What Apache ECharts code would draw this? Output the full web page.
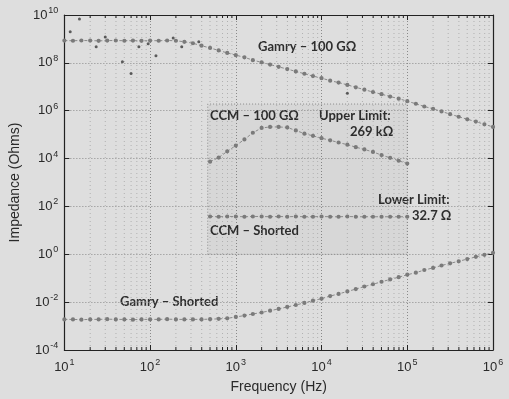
<!DOCTYPE html>
<html><head><meta charset="utf-8">
<script src="https://cdn.jsdelivr.net/npm/echarts@6/dist/echarts.min.js"></script>
<style>html,body{margin:0;padding:0;background:#dedede}#c{width:509px;height:399px}</style>
</head><body><div id="c"></div>
<script>
// ---- data (Frequency in Hz, Impedance in Ohms) ----
const freq = [10,12.6,15.8,20,25.1,31.6,39.8,50.1,63.1,79.4,
  100,126,158,200,251,316,398,501,631,794,
  1000,1260,1580,2000,2510,3160,3980,5010,6310,7940,
  1e4,1.26e4,1.58e4,2e4,2.51e4,3.16e4,3.98e4,5.01e4,6.31e4,7.94e4,
  1e5,1.26e5,1.58e5,2e5,2.51e5,3.16e5,3.98e5,5.01e5,6.31e5,7.94e5,1e6];
const gamry100G = [8.5e8,8.4e8,8.6e8,8.5e8,8.3e8,8.5e8,8.6e8,8.4e8,8.5e8,8.3e8,
  8.5e8,8.4e8,8.6e8,8.4e8,7.6e8,6.6e8,5.2e8,4.2e8,3.3e8,2.6e8,
  2.1e8,1.7e8,1.3e8,1.05e8,8.5e7,6.8e7,5.5e7,4.4e7,3.5e7,2.8e7,
  2.3e7,1.8e7,1.5e7,1.2e7,9.5e6,7.6e6,6.0e6,4.9e6,3.9e6,3.2e6,
  2.5e6,1.95e6,1.5e6,1.2e6,9.3e5,7.2e5,5.6e5,4.4e5,3.5e5,2.7e5,2.1e5];
const gamryShorted = [1.9e-3,1.9e-3,1.85e-3,1.9e-3,1.9e-3,1.95e-3,1.9e-3,1.9e-3,1.85e-3,1.9e-3,
  1.9e-3,1.9e-3,1.95e-3,1.9e-3,1.9e-3,1.9e-3,1.9e-3,1.95e-3,2.0e-3,2.1e-3,
  2.4e-3,2.75e-3,3.2e-3,3.7e-3,4.4e-3,5.2e-3,6.3e-3,7.6e-3,9.3e-3,1.15e-2,
  1.4e-2,1.8e-2,2.2e-2,2.8e-2,3.5e-2,4.5e-2,5.6e-2,7.1e-2,8.9e-2,0.11,
  0.14,0.17,0.22,0.27,0.34,0.42,0.51,0.63,0.78,0.95,1.15];
const gamryOutF = [11.7,15,23.5,30,47.5,60,74,95,117,186,234,370,2.0e4];
const gamryOutZ = [2.0e9,6.8e9,4.7e8,1.2e9,1.1e8,3.6e7,4.7e8,6.3e8,2.0e8,1.1e9,4.7e8,7.6e8,5.4e6];
const ccmFreq = [501,631,794,1000,1260,1580,2000,2510,3160,3980,5010,6310,7940,
  1e4,1.26e4,1.58e4,2e4,2.51e4,3.16e4,3.98e4,5.01e4,6.31e4,7.94e4,1e5];
const ccm100G = [7.4e3,1.1e4,2.0e4,3.5e4,6.3e4,1.2e5,1.9e5,2.1e5,2.1e5,2.0e5,1.5e5,1.1e5,8.9e4,
  7.1e4,5.8e4,4.7e4,3.8e4,3.0e4,2.4e4,1.9e4,1.4e4,1.07e4,8.1e3,6.2e3];
const ccmShorted = [38,37,38,38,37,38,38,37,38,37,38,37,37,38,37,37,38,37,37,37,37,37,37,37];
const insetF = [470, 1e5];
const insetZ = [1, 1.9e6];

// ---- build ----
const L = Math.log10;
const pts = (f, z) => f.map((v, i) => [L(v), L(z[i])]);
const minorX = [];
for (let d = 1; d < 6; d++) for (let k = 2; k <= 9; k++) minorX.push([L(k * Math.pow(10, d)), 0]);

const chart = echarts.init(document.getElementById('c'), null, {renderer: 'canvas'});
const supLabel = v => '{b|10}{e|' + v + '}';
const richX = {b: {fontSize: 13, color: '#2a2a2a', fontFamily: 'Liberation Sans'},
               e: {fontSize: 9, color: '#2a2a2a', fontFamily: 'Liberation Sans', padding: [0, 0, 9, 1]}};
const textFont = {fontFamily: 'Lato', fontWeight: 'bold', fontSize: 13, fill: '#2e2e2e'};
const dataMark = {symbol: 'emptyCircle', symbolSize: 2.2, showSymbol: true,
  itemStyle: {color: '#7a7a7a', borderWidth: 0.7},
  lineStyle: {color: '#8a8a8a', width: 1, type: [3, 2]}};
const axisBase = {
  axisLine: {show: true, onZero: false, lineStyle: {color: '#222', width: 1.2}},
  axisTick: {inside: true, length: 5, lineStyle: {color: '#222'}}
};

chart.setOption({
  backgroundColor: '#dedede',
  animation: false,
  grid: {left: 64, right: 16, top: 15, bottom: 46},
  xAxis: [Object.assign({
    type: 'value', min: 1, max: 6, interval: 1,
    name: 'Frequency (Hz)', nameLocation: 'middle', nameGap: 30,
    nameTextStyle: {fontSize: 14, color: '#2a2a2a', fontFamily: 'Liberation Sans'},
    axisLabel: {formatter: supLabel, rich: richX, margin: 8},
    splitLine: {show: true, lineStyle: {color: '#8a8a8a', type: [1, 2]}}
  }, axisBase), Object.assign({
    type: 'value', min: 1, max: 6, interval: 1, position: 'top',
    axisLabel: {show: false}, splitLine: {show: false}
  }, axisBase)],
  yAxis: [Object.assign({
    type: 'value', min: -4, max: 10, interval: 2,
    name: 'Impedance (Ohms)', nameLocation: 'middle', nameGap: 40,
    nameTextStyle: {fontSize: 14, color: '#2a2a2a', fontFamily: 'Liberation Sans'},
    axisLabel: {formatter: supLabel, rich: richX, margin: 6},
    splitLine: {show: true, lineStyle: {color: '#8a8a8a', type: [1, 2]}}
  }, axisBase), Object.assign({
    type: 'value', min: -4, max: 10, interval: 2, position: 'right',
    axisLabel: {show: false}, splitLine: {show: false}
  }, axisBase)],
  series: [
    {type: 'custom', data: minorX, z: 1, silent: true, clip: false,
     renderItem: (params, api) => {
       const x = api.value(0);
       const p0 = api.coord([x, -4]), p1 = api.coord([x, 10]);
       return {type: 'group', children: [
         {type: 'line', shape: {x1: p0[0], y1: p0[1], x2: p1[0], y2: p1[1]},
          style: {stroke: '#b0b0b0', lineWidth: 1, lineDash: [1, 3]}},
         {type: 'line', shape: {x1: p0[0], y1: p0[1], x2: p0[0], y2: p0[1] - 3},
          style: {stroke: '#222', lineWidth: 1}},
         {type: 'line', shape: {x1: p1[0], y1: p1[1], x2: p1[0], y2: p1[1] + 3},
          style: {stroke: '#222', lineWidth: 1}}
       ]};
     }},
    Object.assign({type: 'line', name: 'Gamry 100G', data: pts(freq, gamry100G), z: 3}, dataMark),
    Object.assign({type: 'line', name: 'Gamry Shorted', data: pts(freq, gamryShorted), z: 3}, dataMark),
    Object.assign({type: 'line', name: 'CCM 100G', data: pts(ccmFreq, ccm100G), z: 3,
      markArea: {silent: true, itemStyle: {color: 'rgba(0,0,0,0.03)', borderColor: '#8a8a8a', borderWidth: 1, borderType: [1, 2]},
        data: [[{coord: [L(insetF[0]), L(insetZ[0])]}, {coord: [L(insetF[1]), L(insetZ[1])]}]]}}, dataMark),
    Object.assign({type: 'line', name: 'CCM Shorted', data: pts(ccmFreq, ccmShorted), z: 3}, dataMark),
    {type: 'scatter', name: 'Gamry outliers', data: pts(gamryOutF, gamryOutZ), symbol: 'circle', symbolSize: 3,
     itemStyle: {color: '#3a3a3a'}, z: 4}
  ],
  graphic: [
    {type: 'text', left: 258, top: 40, style: Object.assign({text: 'Gamry – 100 GΩ'}, textFont)},
    {type: 'text', left: 210, top: 109, style: Object.assign({text: 'CCM – 100 GΩ'}, textFont)},
    {type: 'text', left: 319, top: 109, style: Object.assign({text: 'Upper Limit:'}, textFont)},
    {type: 'text', left: 350, top: 125, style: Object.assign({text: '269 kΩ'}, textFont)},
    {type: 'text', left: 378, top: 193, style: Object.assign({text: 'Lower Limit:'}, textFont)},
    {type: 'text', left: 412, top: 209, style: Object.assign({text: '32.7 Ω'}, textFont)},
    {type: 'text', left: 210, top: 224, style: Object.assign({text: 'CCM – Shorted'}, textFont)},
    {type: 'text', left: 120, top: 295, style: Object.assign({text: 'Gamry – Shorted'}, textFont)}
  ]
});
</script></body></html>
